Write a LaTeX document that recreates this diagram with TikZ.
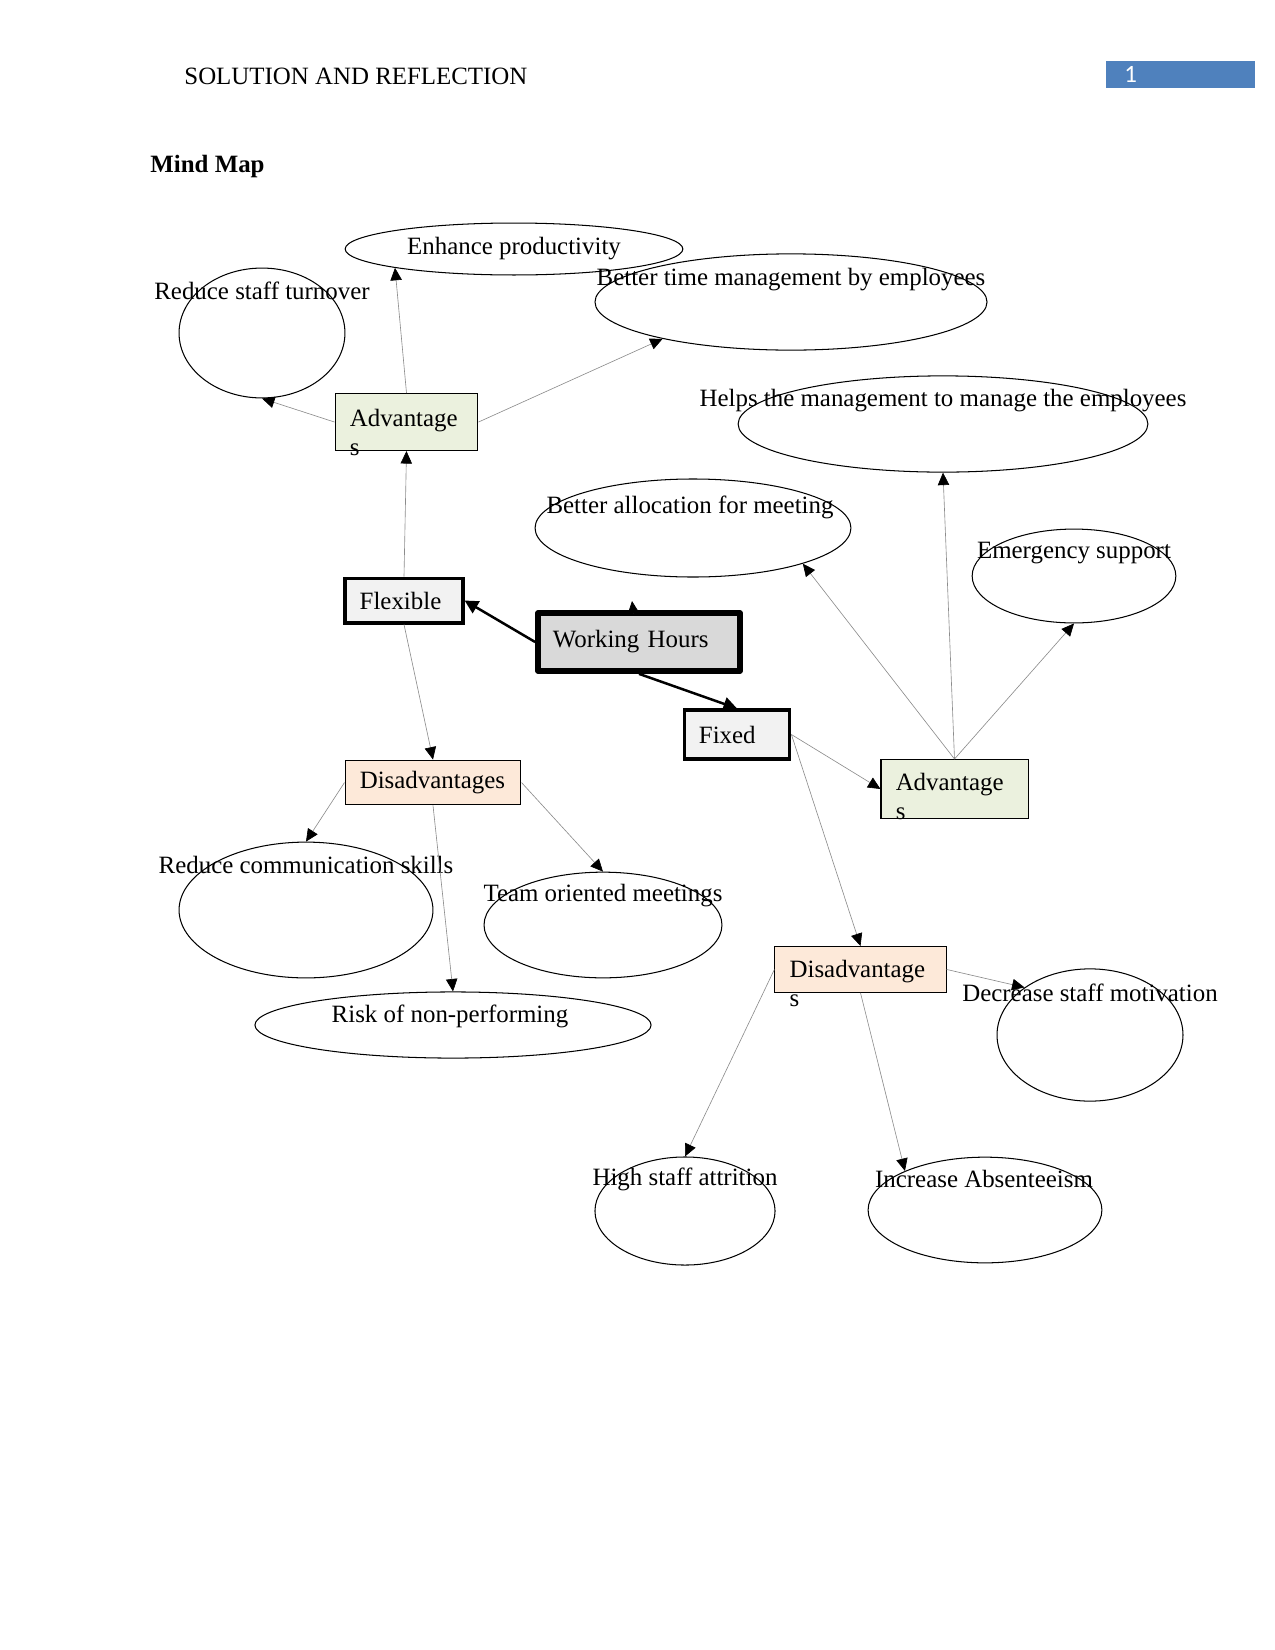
\documentclass[tikz,border=0pt]{standalone}
\usepackage{fontspec}
\setmainfont{Liberation Serif}
\newfontfamily\pagefont{Carlito}
\usepackage{tikz}
\usetikzlibrary{shapes.geometric, arrows.meta, positioning}
\definecolor{MapGreen}{HTML}{EBF1DE}
\definecolor{MapPeach}{HTML}{FDE9D9}
\definecolor{MapLight}{HTML}{F2F2F2}
\definecolor{MapGrey}{HTML}{D9D9D9}
\definecolor{MapLine}{HTML}{8C8C8C}
\definecolor{MapBlue}{HTML}{4F81BD}
\tikzset{
    % Ovals, their text is set apart
    idea/.style={
        ellipse,
        draw=black,
        line width=0.5pt,
        inner sep=0pt
    },
    idea text/.style={
        font=\fontsize{12}{14}\selectfont,
        inner sep=0pt
    },
    % Boxes with sharp corners
    branch/.style={
        rectangle,
        draw=black,
        line width=0.5pt,
        inner xsep=0.25cm,
        align=left,
        font=\fontsize{12}{14}\selectfont
    },
    branch green/.style={
        branch,
        fill=MapGreen
    },
    branch peach/.style={
        branch,
        fill=MapPeach
    },
    branch bold/.style={
        branch,
        fill=MapLight,
        line width=1.5pt
    },
    hub/.style={
        branch,
        fill=MapGrey,
        line width=2.8pt,
        line join=round
    },
    arrow style/.style={
        -{Triangle[length=6pt,width=5.5pt,color=black]},
        draw=MapLine,
        line width=0.3pt
    },
    thick arrow style/.style={
        -{Triangle[length=6.5pt,width=6.5pt]},
        draw=black,
        line width=1.2pt
    }
}

\begin{document}
\begin{tikzpicture}[x=0.016933cm, y=-0.016933cm]
        \path[fill=white] (0,0) rectangle (1275,1650);

        % Page head
        \node[anchor=west, inner sep=0pt, font=\fontsize{12}{14}\selectfont] (header) at (184,76) {SOLUTION AND REFLECTION};
        \node[fill=MapBlue, minimum width=2.52cm, minimum height=0.46cm, text width=1.9cm, inner xsep=0.31cm, inner ysep=0pt, align=left, text=white, font=\fontsize{12}{14}\pagefont] (pagenum) at (1180.5,74.5) {1};
        \node[anchor=west, inner sep=0pt, font=\fontsize{12}{14}\selectfont\bfseries] (title) at (150,167) {Mind Map};

        % Ovals
        \node[idea, minimum width=5.72cm, minimum height=0.88cm] (prod) at (514,249) {};
        \node[idea text] (prodt) at (514,249) {Enhance productivity};
        \node[idea, minimum width=2.81cm, minimum height=2.20cm] (turnover) at (262,333) {};
        \node[idea text] (turnovert) at (262,291) {Reduce staff turnover};
        \node[idea, minimum width=6.64cm, minimum height=1.63cm] (timemgmt) at (791,302) {};
        \node[idea text] (timemgmtt) at (791,280) {Better time management by employees};
        \node[idea, minimum width=6.94cm, minimum height=1.63cm] (helps) at (943,424) {};
        \node[idea text] (helpst) at (943,401) {Helps the management to manage the employees};
        \node[idea, minimum width=5.35cm, minimum height=1.66cm] (meeting) at (693,528) {};
        \node[idea text] (meetingt) at (690,507) {Better allocation for meeting};
        \node[idea, minimum width=3.45cm, minimum height=1.59cm] (emerg) at (1074,576) {};
        \node[idea text] (emergt) at (1074,553) {Emergency support};
        \node[idea, minimum width=4.30cm, minimum height=2.30cm] (comm) at (306,910) {};
        \node[idea text] (commt) at (306,865) {Reduce communication skills};
        \node[idea, minimum width=4.03cm, minimum height=1.79cm] (team) at (603,925) {};
        \node[idea text] (teamt) at (603,896) {Team oriented meetings};
        \node[idea, minimum width=6.71cm, minimum height=1.12cm] (risk) at (453,1025) {};
        \node[idea text] (riskt) at (450,1016) {Risk of non-performing};
        \node[idea, minimum width=3.15cm, minimum height=2.24cm] (motiv) at (1090,1035) {};
        \node[idea text] (motivt) at (1090,993) {Decrease staff motivation};
        \node[idea, minimum width=3.05cm, minimum height=1.83cm] (attrition) at (685,1211) {};
        \node[idea text] (attritiont) at (685,1179) {High staff attrition};
        \node[idea, minimum width=3.96cm, minimum height=1.79cm] (absent) at (985,1210) {};
        \node[idea text] (absentt) at (984,1179) {Increase Absenteeism};

        % Boxes
        \node[hub, text width=2.92cm, minimum height=0.98cm] (wh) at (639,642) {Working Hours};
        \node[branch bold, text width=1.50cm, minimum height=0.76cm] (flex) at (404,600.5) {Flexible};
        \node[branch bold, text width=1.29cm, minimum height=0.83cm] (fixed) at (737,734.5) {Fixed};
        \node[branch green, anchor=north, text width=1.92cm, inner ysep=0pt, text height=15.9pt, text depth=11.6pt] (advL) at (406.5,393) {Advantage\\s};
        \node[branch peach, text width=2.48cm, minimum height=0.76cm] (disL) at (433,782.5) {Disadvantages};
        \node[branch green, anchor=north, text width=1.99cm, inner ysep=0pt, text height=14.9pt, text depth=13.5pt] (advR) at (954.5,759) {Advantage\\s};
        \node[branch peach, anchor=north, text width=2.40cm, inner ysep=0pt, text height=14.9pt, text depth=7.2pt] (disR) at (860.5,946) {Disadvantage\\s};

        % Arrows from the hub
        \coordinate (whtip) at (632,601);
        \draw[thick arrow style] (wh.west) -- (flex.east);
        \draw[thick arrow style] (wh.south) -- (fixed.north);
        \draw[arrow style] ([xshift=-0.1cm]wh.north) -- (whtip);

        % Flexible side
        \draw[arrow style] (flex.north) -- (advL.south);
        \draw[arrow style] (flex.south) -- (disL.north);
        \draw[arrow style] (advL.north) -- (prod.189);
        \draw[arrow style] (advL.west) -- (turnover.south);
        \draw[arrow style] (advL.east) -- (timemgmt.196);
        \draw[arrow style] (disL.west) -- (comm.north);
        \draw[arrow style] (disL.east) -- (team.north);
        \draw[arrow style] (disL.south) -- (risk.north);

        % Fixed side
        \draw[arrow style] (fixed.east) -- (advR.west);
        \draw[arrow style] (fixed.east) -- (disR.north);
        \draw[arrow style] (advR.north) -- (meeting.342);
        \draw[arrow style] (advR.north) -- (helps.south);
        \draw[arrow style] (advR.north) -- (emerg.south);
        \draw[arrow style] (disR.east) -- (motiv.144);
        \draw[arrow style] (disR.west) -- (attrition.north);
        \draw[arrow style] (disR.south) -- (absent.154);
    \end{tikzpicture}
\end{document}
